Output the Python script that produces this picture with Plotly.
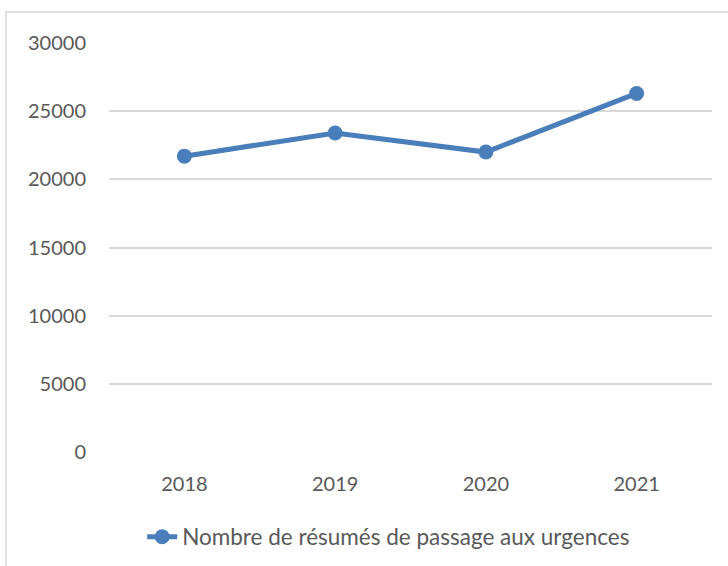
import plotly.graph_objects as go

years = ["2018", "2019", "2020", "2021"]
passages = [21700, 23400, 22000, 26300]
series_name = "Nombre de résumés de passage aux urgences"
y_ticks = [0, 5000, 10000, 15000, 20000, 25000, 30000]
y_tick_labels = ["0", "5000", "10000", "15000", "20000", "25000", "30000"]

blue = "#4A7EBB"
grid = "#D9D9D9"
txt = "#595959"
font_family = "Lato, 'Open Sans', sans-serif"

fig = go.Figure()
fig.add_trace(go.Scatter(
    x=years, y=passages, mode="lines+markers", name=series_name,
    line=dict(color=blue, width=5),
    marker=dict(color=blue, size=15),
))

fig.update_layout(
    width=728, height=566,
    margin=dict(l=109, r=16, t=43, b=114, autoexpand=False),
    paper_bgcolor="white", plot_bgcolor="white",
    font=dict(family=font_family, size=20, color=txt),
    showlegend=True,
    legend=dict(orientation="h", x=0.055, xanchor="left", y=-0.208, yanchor="middle",
                font=dict(size=22.5, color=txt), bgcolor="rgba(0,0,0,0)"),
    xaxis=dict(type="category", range=[-0.5, 3.5], showgrid=False, showline=False,
               zeroline=False, ticks="", ticklabelstandoff=18,
               tickfont=dict(size=20, color=txt)),
    yaxis=dict(range=[0, 30000], tickvals=y_ticks, ticktext=y_tick_labels,
               showgrid=True, gridcolor=grid, gridwidth=1.5, zeroline=False,
               showline=False, ticks="", ticklabelstandoff=22,
               tickfont=dict(size=20, color=txt)),
    shapes=[dict(type="rect", xref="paper", yref="paper",
                 x0=-0.171, x1=1.05, y0=-0.3, y1=1.0758,
                 line=dict(color=grid, width=1.5), fillcolor="rgba(0,0,0,0)", layer="below")],
)

fig.write_html("out.html", config={"displayModeBar": False},
               post_script="document.body.style.margin='0';")
